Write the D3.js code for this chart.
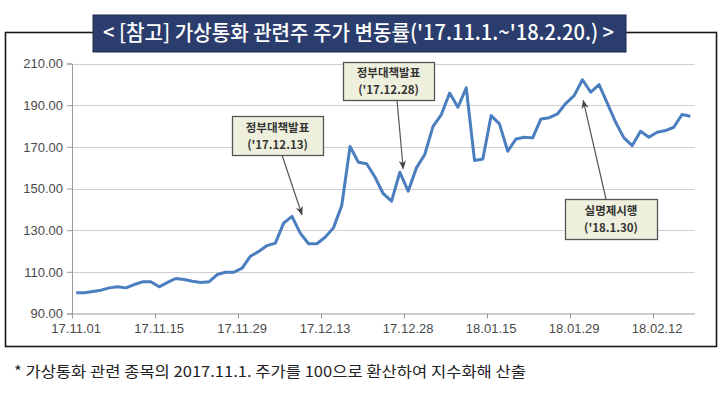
<!DOCTYPE html>
<html><head><meta charset="utf-8">
<script src="https://cdn.jsdelivr.net/npm/d3@7"></script>
<style>
html,body{margin:0;padding:0;background:#fff;}
svg{display:block;}
</style></head>
<body>
<svg id="c" width="727" height="393"></svg>
<script>
const dates = [
 "17.11.01","17.11.02","17.11.03","17.11.06","17.11.07","17.11.08","17.11.09","17.11.10","17.11.13","17.11.14",
 "17.11.15","17.11.16","17.11.17","17.11.20","17.11.21","17.11.22","17.11.23","17.11.24","17.11.27","17.11.28",
 "17.11.29","17.11.30","17.12.01","17.12.04","17.12.05","17.12.06","17.12.07","17.12.08","17.12.11","17.12.12",
 "17.12.13","17.12.14","17.12.15","17.12.18","17.12.19","17.12.20","17.12.21","17.12.22","17.12.26","17.12.27",
 "17.12.28","18.01.02","18.01.03","18.01.04","18.01.05","18.01.08","18.01.09","18.01.10","18.01.11","18.01.12",
 "18.01.15","18.01.16","18.01.17","18.01.18","18.01.19","18.01.22","18.01.23","18.01.24","18.01.25","18.01.26",
 "18.01.29","18.01.30","18.01.31","18.02.01","18.02.02","18.02.05","18.02.06","18.02.07","18.02.08","18.02.09",
 "18.02.12","18.02.13","18.02.14","18.02.19","18.02.20"
];
const values = [
 100.0,100.0,100.6,101.2,102.3,102.8,102.3,103.9,105.2,105.2,
 102.8,104.9,106.8,106.3,105.5,104.9,105.2,108.7,109.8,109.8,
 111.8,117.5,119.8,122.6,123.8,133.4,136.6,128.6,123.5,123.5,
 126.6,131.1,141.8,170.2,162.6,161.9,155.5,147.5,143.9,157.8,
 148.7,159.9,166.3,179.8,185.5,195.8,189.0,198.3,163.4,164.2,
 185.0,181.0,167.9,173.8,174.6,174.3,183.4,184.0,185.8,190.9,
 194.6,202.2,196.2,199.9,190.9,181.8,174.3,170.6,177.5,174.6,
 177.0,177.8,179.4,185.5,184.7
];
const yTicks = [90,110,130,150,170,190,210];
const xTickLabels = ["17.11.01","17.11.15","17.11.29","17.12.13","17.12.28","18.01.15","18.01.29","18.02.12"];
const titleText = "< [참고] 가상통화 관련주 주가 변동률('17.11.1.~'18.2.20.) >";
const footnote = "* 가상통화 관련 종목의 2017.11.1. 주가를 100으로 환산하여 지수화해 산출";
const annotations = [
  {lines:["정부대책발표","('17.12.13)"], box:[232,116,91,39], from:[282,155], tipIdx:27.2, tipVal:137.5},
  {lines:["정부대책발표","('17.12.28)"], box:[343,62,91,38], from:[397,100], tipIdx:39.4, tipVal:159.5},
  {lines:["실명제시행","('18.1.30)"], box:[565,199,92,40], from:[606,199], tipIdx:61.1, tipVal:192.2}
];

const svg = d3.select("#c");
const L = 72, R = 694.5, T = 63.5, B = 313.5;

const x = d3.scaleBand().domain(dates).range([L, R]).padding(0);
const xi = d3.scaleLinear().domain([0, dates.length]).range([L, R]);
const y = d3.scaleLinear().domain([90, 210]).range([B, T]);

// outer frame
svg.append("rect").attr("x",5.5).attr("y",32.5).attr("width",711).attr("height",314)
  .attr("fill","none").attr("stroke","#1a1a1a").attr("stroke-width",1.6);

// gridlines
svg.append("g").selectAll("line").data(yTicks.filter(d=>d>90)).join("line")
  .attr("x1",L).attr("x2",R).attr("y1",d=>Math.round(y(d))+0.5).attr("y2",d=>Math.round(y(d))+0.5)
  .attr("stroke","#cfcfcf").attr("stroke-width",1.2);

// y axis
const yAxis = d3.axisLeft(y).tickValues(yTicks).tickFormat(d3.format(".2f")).tickSize(5).tickPadding(4);
const gy = svg.append("g").attr("transform",`translate(${L},0)`).call(yAxis);
gy.select(".domain").attr("stroke","#9a9a9a");
gy.selectAll(".tick line").attr("stroke","#9a9a9a");
gy.selectAll("text").attr("font-family","Liberation Sans, Arial, sans-serif").attr("font-size",13).attr("fill","#4a4a4a");

// x axis
const tickIdx = xTickLabels.map(l => dates.indexOf(l));
const xAxis = d3.axisBottom(xi).tickValues(tickIdx).tickFormat("").tickSize(5).tickSizeOuter(0);
const gx = svg.append("g").attr("transform",`translate(0,${B})`).call(xAxis);
gx.select(".domain").attr("stroke","#9a9a9a");
gx.selectAll(".tick line").attr("stroke","#9a9a9a");
svg.append("g").selectAll("text").data(xTickLabels).join("text")
  .attr("x",d=>x(d)+x.bandwidth()/2).attr("y",B+19)
  .attr("text-anchor","middle").attr("font-family","Liberation Sans, Arial, sans-serif")
  .attr("font-size",13).attr("fill","#4a4a4a").text(d=>d);

// line
const line = d3.line().x((d,i)=>x(dates[i])+x.bandwidth()/2).y(d=>y(d));
svg.append("path").datum(values).attr("d",line).attr("fill","none")
  .attr("stroke","#4a7ebf").attr("stroke-width",3).attr("stroke-linejoin","round");

// arrow marker
svg.append("defs").append("marker").attr("id","ah").attr("viewBox","0 0 10 10")
  .attr("refX",9).attr("refY",5).attr("markerWidth",9).attr("markerHeight",9)
  .attr("orient","auto-start-reverse").attr("markerUnits","userSpaceOnUse")
  .append("path").attr("d","M0,1 L10,5 L0,9 L3,5 Z").attr("fill","#444");

// annotations
annotations.forEach(a=>{
  const tx = xi(a.tipIdx+0.5), ty = y(a.tipVal);
  svg.append("line").attr("x1",a.from[0]).attr("y1",a.from[1]).attr("x2",tx).attr("y2",ty)
    .attr("stroke","#555").attr("stroke-width",1.2).attr("marker-end","url(#ah)");
  const [bx,by,bw,bh] = a.box;
  svg.append("rect").attr("x",bx+0.5).attr("y",by+0.5).attr("width",bw).attr("height",bh)
    .attr("fill","#eef0dd").attr("stroke","#555").attr("stroke-width",1.3);
  a.lines.forEach((t,k)=>{
    svg.append("text").attr("x",bx+bw/2).attr("y",by+bh/2-4+k*17)
      .attr("text-anchor","middle").attr("font-family","Noto Sans CJK KR, sans-serif")
      .attr("font-weight",700).attr("font-size",11.5).attr("fill","#333").text(t);
  });
});

// title box
svg.append("rect").attr("x",93).attr("y",15).attr("width",533).attr("height",37)
  .attr("fill","#2b3d6d").attr("stroke","#1c2a50").attr("stroke-width",1);
svg.append("text").attr("x",103).attr("y",40).attr("font-family","Noto Sans CJK KR, sans-serif")
  .attr("font-weight",500).attr("font-size",21).attr("fill","#ffffff")
  .attr("textLength",511).attr("lengthAdjust","spacingAndGlyphs").text(titleText);

// footnote
svg.append("text").attr("x",14).attr("y",377).attr("font-family","Noto Sans CJK KR, sans-serif")
  .attr("font-size",15).attr("fill","#222")
  .attr("textLength",512).attr("lengthAdjust","spacingAndGlyphs").text(footnote);
</script>
</body></html>
